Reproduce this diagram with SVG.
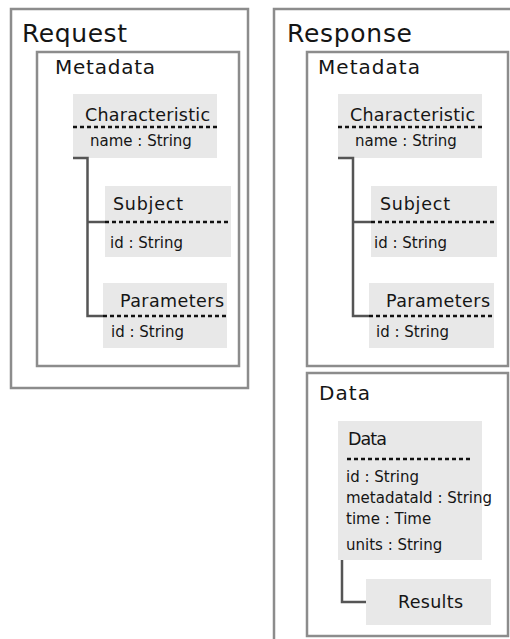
<svg xmlns="http://www.w3.org/2000/svg" width="510" height="639" viewBox="0 0 510 639">
<style>
.frame{fill:#fff;stroke:#8c8c8c;stroke-width:2.5}
.cls{fill:#e8e8e8;stroke:none}
.dash{stroke:#111;stroke-width:2.5;stroke-dasharray:4 3;fill:none}
.conn{stroke:#555;stroke-width:2.5;fill:none}
text{font-family:"DejaVu Sans",Verdana,sans-serif;fill:#151515}
.big{font-size:25px}
.hdr{font-size:20px}
.name{font-size:17.5px}
.attr{font-size:15px}
</style>
<rect width="510" height="639" fill="#fff"/>
<g id="request">
<rect class="frame" x="11" y="9" width="237" height="379"/>
<text class="big" x="22" y="42" textLength="105" lengthAdjust="spacing">Request</text>
</g>
<g id="request-metadata">
<rect class="frame" x="37" y="52" width="202" height="314"/>
<text class="hdr" x="55" y="74" textLength="100" lengthAdjust="spacing">Metadata</text>
</g>
<g id="req-characteristic">
<rect class="cls" x="73" y="94" width="144" height="64"/>
<text class="name" x="85" y="121" textLength="125" lengthAdjust="spacing">Characteristic</text>
<line class="dash" x1="73" y1="127" x2="217" y2="127"/>
<text class="attr" x="90" y="146">name : String</text>
</g>
<g id="req-subject">
<rect class="cls" x="105" y="186" width="126" height="71"/>
<text class="name" x="113" y="210" textLength="70" lengthAdjust="spacing">Subject</text>
<line class="dash" x1="105" y1="222" x2="231" y2="222"/>
<text class="attr" x="110" y="248">id : String</text>
</g>
<g id="req-parameters">
<rect class="cls" x="103" y="283" width="124" height="65"/>
<text class="name" x="120" y="307" textLength="104" lengthAdjust="spacing">Parameters</text>
<line class="dash" x1="103" y1="316" x2="227" y2="316"/>
<text class="attr" x="111" y="337">id : String</text>
</g>
<g id="response">
<rect class="frame" x="274" y="9" width="245" height="640"/>
<text class="big" x="287" y="42" textLength="125" lengthAdjust="spacing">Response</text>
</g>
<g id="response-metadata">
<rect class="frame" x="307" y="52" width="201" height="314"/>
<text class="hdr" x="318" y="74" textLength="102" lengthAdjust="spacing">Metadata</text>
</g>
<g id="res-characteristic">
<rect class="cls" x="338" y="94" width="144" height="64"/>
<text class="name" x="350" y="121" textLength="125" lengthAdjust="spacing">Characteristic</text>
<line class="dash" x1="338" y1="127" x2="482" y2="127"/>
<text class="attr" x="355" y="146">name : String</text>
</g>
<g id="res-subject">
<rect class="cls" x="371" y="186" width="126" height="71"/>
<text class="name" x="380" y="210" textLength="70" lengthAdjust="spacing">Subject</text>
<line class="dash" x1="371" y1="222" x2="497" y2="222"/>
<text class="attr" x="374" y="248">id : String</text>
</g>
<g id="res-parameters">
<rect class="cls" x="369" y="283" width="125" height="65"/>
<text class="name" x="386" y="307" textLength="104" lengthAdjust="spacing">Parameters</text>
<line class="dash" x1="369" y1="316" x2="494" y2="316"/>
<text class="attr" x="376" y="337">id : String</text>
</g>
<g id="response-data">
<rect class="frame" x="307" y="373" width="201" height="263"/>
<text class="hdr" x="319" y="400" textLength="51" lengthAdjust="spacing">Data</text>
</g>
<g id="data-class">
<rect class="cls" x="338" y="421" width="144" height="139"/>
<text class="name" x="348" y="445" textLength="39" lengthAdjust="spacing">Data</text>
<line class="dash" x1="347" y1="459" x2="472" y2="459"/>
<text class="attr" x="346" y="482">id : String</text>
<text class="attr" x="346" y="503">metadataId : String</text>
<text class="attr" x="346" y="524">time : Time</text>
<text class="attr" x="346" y="550">units : String</text>
</g>
<g id="results">
<rect class="cls" x="366" y="579" width="125" height="46"/>
<text class="name" x="398" y="608" textLength="65" lengthAdjust="spacing">Results</text>
</g>
<g id="connectors">
<path class="conn" d="M73,158 H87.5 V316 H103"/>
<path class="conn" d="M87.5,222 H105"/>
<path class="conn" d="M338,158 H353 V316 H369"/>
<path class="conn" d="M353,222 H371"/>
<path class="conn" d="M342,560 V602 H366"/>
</g>
</svg>
